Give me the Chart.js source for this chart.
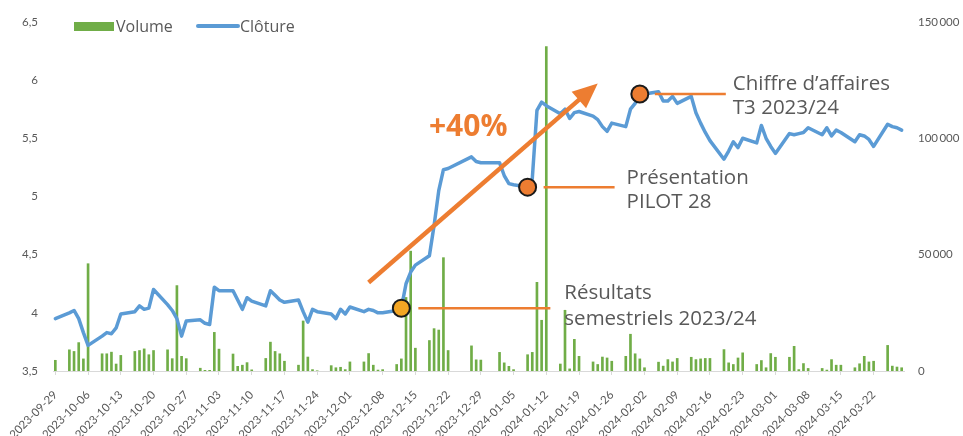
<!DOCTYPE html>
<html lang="fr">
<head>
<meta charset="utf-8">
<title>Clôture et volume</title>
<script src="https://cdn.jsdelivr.net/npm/chart.js@4.4.1/dist/chart.umd.min.js"></script>
<style>
	html, body { margin: 0; padding: 0; background: #fff; }
	canvas { display: block; }
</style>
</head>
<body>
<canvas id="myChart" width="963" height="436"></canvas>
<script>
// trading days run from firstDay to lastDay, weekends and these holidays excluded
const firstDay = '2023-09-29';
const lastDay = '2024-03-28';
const holidays = ['2023-12-25', '2023-12-26', '2024-01-01'];

const tickDates = [
	'2023-09-29', '2023-10-06', '2023-10-13', '2023-10-20', '2023-10-27', '2023-11-03',
	'2023-11-10', '2023-11-17', '2023-11-24', '2023-12-01', '2023-12-08', '2023-12-15',
	'2023-12-22', '2023-12-29', '2024-01-05', '2024-01-12', '2024-01-19', '2024-01-26',
	'2024-02-02', '2024-02-09', '2024-02-16', '2024-02-23', '2024-03-01', '2024-03-08',
	'2024-03-15', '2024-03-22',
];

// one row per week (Mon..Fri)
const closes = [
	3.95,
	4.00, 4.02, 3.95, 3.83, 3.72,
	3.80, 3.83, 3.82, 3.87, 3.99,
	4.01, 4.06, 4.03, 4.04, 4.20,
	4.07, 4.02, 3.95, 3.80, 3.93,
	3.94, 3.91, 3.90, 4.22, 4.19,
	4.19, 4.11, 4.03, 4.13, 4.10,
	4.06, 4.19, 4.15, 4.11, 4.09,
	4.11, 4.01, 3.92, 4.03, 4.01,
	3.99, 3.95, 4.03, 3.99, 4.05,
	4.01, 4.03, 4.02, 4.00, 4.00,
	4.02, 4.04, 4.25, 4.35, 4.41,
	4.49, 4.75, 5.05, 5.23, 5.24,
	5.34, 5.30, 5.29,
	5.29, 5.18, 5.11, 5.10,
	5.08, 5.15, 5.74, 5.81, 5.78,
	5.71, 5.75, 5.67, 5.72, 5.73,
	5.69, 5.66, 5.60, 5.56, 5.63,
	5.60, 5.75, 5.80, 5.88, 5.88,
	5.90, 5.82, 5.82, 5.86, 5.80,
	5.86, 5.72, 5.63, 5.55, 5.48,
	5.32, 5.39, 5.47, 5.42, 5.50,
	5.46, 5.61, 5.50, 5.43, 5.37,
	5.54, 5.53, 5.54, 5.55, 5.59,
	5.53, 5.59, 5.52, 5.57, 5.55,
	5.47, 5.53, 5.52, 5.49, 5.43,
	5.62, 5.60, 5.59, 5.57,
];

const volumes = [
	4600,
	9100, 8400, 12200, 5200, 46100,
	7400, 7400, 8100, 3000, 6700,
	8400, 8800, 9500, 7000, 8800,
	9100, 5300, 36700, 6300, 5300,
	1200, 300, 300, 16600, 9400,
	7300, 2000, 2500, 3600, 500,
	5400, 12400, 8400, 7400, 4200,
	2500, 21500, 6000, 600, 100,
	2300, 1400, 1600, 600, 3900,
	3900, 7500, 2500, 400, 600,
	2800, 5200, 31600, 51500, 9800,
	13100, 18200, 17600, 48700, 8800,
	10800, 4800, 4700,
	8000, 3500, 2000, 600,
	7000, 8000, 38100, 21800, 139400,
	3000, 26100, 900, 13600, 6300,
	3900, 2800, 6000, 5600, 4200,
	6300, 15800, 7400, 5200, 1400,
	3800, 2100, 4900, 3900, 5400,
	5900, 4900, 5200, 5400, 5400,
	9200, 3500, 2800, 5600, 7800,
	2800, 4500, 1400, 7500, 5900,
	5900, 10600, 600, 3200, 1100,
	1100, 400, 4900, 2500, 2500,
	1400, 3100, 6300, 3900, 4200,
	11000, 2100, 1700, 1400,
];

const events = [
	{ date: '2023-12-12', label: ['Résultats', 'semestriels 2023/24'] },
	{ date: '2024-01-08', label: ['Présentation', 'PILOT 28'] },
	{ date: '2024-02-01', label: ['Chiffre d’affaires', 'T3 2023/24'] },
];

const trendFrom = { date: '2023-12-05', value: 4.26 };
const trendTo = { date: '2024-01-23', value: 5.97 };
const trendLabel = '+40%';

// ---- build the calendar axis ----
const isoDay = (d) => d.toISOString().slice(0, 10);
const calendar = [];
for (let d = new Date(firstDay + 'T00:00:00Z'); isoDay(d) <= lastDay; d.setUTCDate(d.getUTCDate() + 1)) {
	calendar.push(isoDay(d));
}
const closeByDay = [];
const volumeByDay = [];
let k = 0;
calendar.forEach((day) => {
	const wd = new Date(day + 'T00:00:00Z').getUTCDay();
	const open = wd !== 0 && wd !== 6 && !holidays.includes(day);
	closeByDay.push(open ? closes[k] : null);
	volumeByDay.push(open ? volumes[k] : null);
	if (open) k++;
});

const grey = '#595959';
const orange = '#ED7D31';
const green = '#70AD47';
const blue = '#5B9BD5';
const axisFont = { family: 'Lato', size: 11.5 };

const legendPlugin = {
	id: 'topLegend',
	afterDraw(chart) {
		const { ctx } = chart;
		ctx.save();
		ctx.font = '16px "Open Sans"';
		ctx.textBaseline = 'middle';
		ctx.fillStyle = green;
		ctx.fillRect(74, 22, 40, 9);
		ctx.fillStyle = grey;
		ctx.fillText(chart.data.datasets[0].label, 116, 27);
		ctx.strokeStyle = blue;
		ctx.lineWidth = 4;
		ctx.lineCap = 'round';
		ctx.beginPath();
		ctx.moveTo(198, 26);
		ctx.lineTo(238, 26);
		ctx.stroke();
		ctx.fillText(chart.data.datasets[1].label, 240, 27);
		ctx.restore();
	},
};

// marker, connector and text placement for each event (px from the marker)
const eventLayout = [
	{ fill: '#F4A624', lineFrom: 17, lineTo: 149, textX: 163, textY: [-15, 11] },
	{ fill: orange, lineFrom: 16, lineTo: 87, textX: 99, textY: [-9, 15] },
	{ fill: orange, lineFrom: 15, lineTo: 86, textX: 93, textY: [-10, 14] },
];

const annotationPlugin = {
	id: 'annotations',
	afterDatasetsDraw(chart) {
		const { ctx, scales } = chart;
		const x = scales.x;
		const y = scales.yPrice;
		const px = (date) => x.getPixelForValue(calendar.indexOf(date));
		ctx.save();

		// trend arrow
		const x0 = px(trendFrom.date), y0 = y.getPixelForValue(trendFrom.value);
		const x1 = px(trendTo.date), y1 = y.getPixelForValue(trendTo.value);
		const len = Math.hypot(x1 - x0, y1 - y0);
		const ux = (x1 - x0) / len, uy = (y1 - y0) / len;
		const head = 25, half = 11;
		const bx = x1 - ux * head, by = y1 - uy * head;
		ctx.strokeStyle = orange;
		ctx.fillStyle = orange;
		ctx.lineWidth = 4.5;
		ctx.beginPath();
		ctx.moveTo(x0, y0);
		ctx.lineTo(bx + ux * 2, by + uy * 2);
		ctx.stroke();
		ctx.beginPath();
		ctx.moveTo(x1, y1);
		ctx.lineTo(bx - uy * half, by + ux * half);
		ctx.lineTo(bx + uy * half, by - ux * half);
		ctx.closePath();
		ctx.fill();

		ctx.font = 'bold 30px "Open Sans"';
		ctx.textAlign = 'center';
		ctx.textBaseline = 'middle';
		ctx.fillText(trendLabel, (x0 + x1) / 2 - 15, (y0 + y1) / 2 - 56);

		// events
		events.forEach((ev, i) => {
			const lay = eventLayout[i];
			const i0 = calendar.indexOf(ev.date);
			const cx = x.getPixelForValue(i0);
			const cy = y.getPixelForValue(closeByDay[i0]);
			ctx.strokeStyle = orange;
			ctx.lineWidth = 2.5;
			ctx.beginPath();
			ctx.moveTo(cx + lay.lineFrom, cy);
			ctx.lineTo(cx + lay.lineTo, cy);
			ctx.stroke();

			ctx.beginPath();
			ctx.arc(cx, cy, 8.5, 0, Math.PI * 2);
			ctx.fillStyle = lay.fill;
			ctx.fill();
			ctx.lineWidth = 2;
			ctx.strokeStyle = '#1a1a1a';
			ctx.stroke();

			ctx.font = '20.5px "Open Sans"';
			ctx.fillStyle = grey;
			ctx.textAlign = 'left';
			ctx.textBaseline = 'middle';
			ev.label.forEach((line, j) => ctx.fillText(line, cx + lay.textX, cy + lay.textY[j]));
		});
		ctx.restore();
	},
};

const ctx = document.getElementById('myChart').getContext('2d');

new Chart(ctx, {
	type: 'bar',
	data: {
		labels: calendar,
		datasets: [
			{
				type: 'bar',
				label: 'Volume',
				data: volumeByDay,
				yAxisID: 'yVol',
				backgroundColor: green,
				barThickness: 2,
				order: 1,
			},
			{
				type: 'line',
				label: 'Clôture',
				data: closeByDay,
				yAxisID: 'yPrice',
				borderColor: blue,
				borderWidth: 3.5,
				pointRadius: 0,
				spanGaps: true,
				tension: 0,
				borderJoinStyle: 'round',
				borderCapStyle: 'round',
				order: 0,
			},
		],
	},
	options: {
		responsive: false,
		animation: false,
		layout: { padding: { top: 17, left: 0, right: 0, bottom: 0 } },
		plugins: {
			legend: { display: false },
			tooltip: { enabled: false },
		},
		scales: {
			x: {
				offset: true,
				grid: { display: true, drawOnChartArea: false, offset: false, color: '#D9D9D9', tickLength: 4 },
				border: { display: true, color: '#D9D9D9' },
				ticks: {
					autoSkip: false,
					minRotation: 45,
					maxRotation: 45,
					padding: 13,
					color: grey,
					font: { family: 'Lato', size: 11.5 },
					callback(value) {
						const d = this.getLabelForValue(value);
						return tickDates.includes(d) ? d : null;
					},
				},
				afterFit(scale) {
					scale.height = 65;
					scale.paddingLeft = 0;
					scale.paddingRight = 0;
				},
			},
			yPrice: {
				position: 'left',
				min: 3.5,
				max: 6.5,
				grid: { display: false, drawTicks: false },
				border: { display: false },
				ticks: {
					stepSize: 0.5,
					padding: 15,
					color: grey,
					font: axisFont,
					callback: (v) => String(v).replace('.', ','),
				},
				afterFit(scale) { scale.width = 53; },
			},
			yVol: {
				position: 'right',
				min: 0,
				max: 150000,
				grid: { display: false, drawTicks: false },
				border: { display: false },
				ticks: {
					stepSize: 50000,
					padding: 14,
					color: grey,
					font: axisFont,
					callback: (v) => (v === 0 ? '0' : (v / 1000) + '\u2009000'),
				},
				afterFit(scale) { scale.width = 59; },
			},
		},
	},
	plugins: [legendPlugin, annotationPlugin],
});
</script>
</body>
</html>
